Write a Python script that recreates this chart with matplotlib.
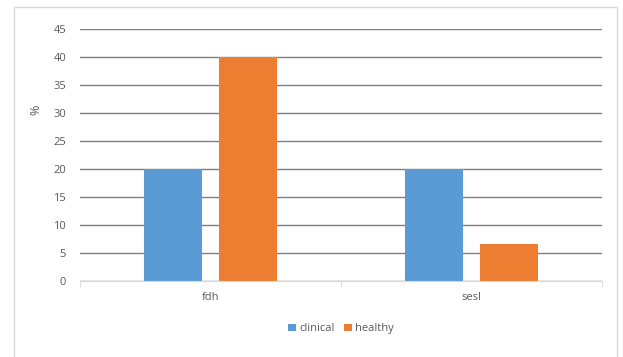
import matplotlib.pyplot as plt
from matplotlib.patches import Rectangle
import numpy as np

categories = ["fdh", "sesl"]
clinical = [20, 20]
healthy = [40, 6.67]

W, H = 623, 357
fig = plt.figure(figsize=(W / 100, H / 100), dpi=100)
plt.rcParams['font.family'] = ['Open Sans', 'DejaVu Sans']

# outer chart border
fig.add_artist(Rectangle((14 / W, -0.01), (617 - 14) / W, 1 - 7 / H + 0.01,
                         transform=fig.transFigure, fill=False,
                         edgecolor="#d9d9d9", linewidth=1))

ax = fig.add_axes([80 / W, 1 - 281 / H, (602 - 80) / W, (281 - 29) / H])

x = np.arange(len(categories))
bw = 0.222
off = 0.142
ax.bar(x - off, clinical, bw, color="#5B9BD5", label="clinical", zorder=3)
ax.bar(x + off, healthy, bw, color="#ED7D31", label="healthy", zorder=3)

ax.set_xlim(-0.5, 1.5)
ax.set_ylim(0, 45)
ax.set_yticks(range(0, 46, 5))
ax.grid(axis="y", color="#7f7f7f", linewidth=1, zorder=0)
for s in ["top", "right", "left"]:
    ax.spines[s].set_visible(False)
ax.spines["bottom"].set_color("#d9d9d9")
ax.spines["bottom"].set_zorder(4)

ax.set_xticks(x)
ax.set_xticklabels(categories)
ax.set_xticks([-0.5, 0.5, 1.5], minor=True)
ax.tick_params(axis="x", which="major", length=0, pad=8, labelsize=8, labelcolor="#595959")
ax.tick_params(axis="x", which="minor", length=4, color="#d9d9d9")
ax.tick_params(axis="y", length=0, pad=10, labelsize=8, labelcolor="#595959")
ax.set_ylabel("%", fontsize=9, color="#595959", labelpad=8)
ax.yaxis.set_label_coords(-0.072, 0.68)

ax.legend(loc="center", bbox_to_anchor=(0.5, -0.19), ncol=2, frameon=False,
          fontsize=8, labelcolor="#595959", handlelength=0.7, handleheight=0.7,
          handletextpad=0.3, columnspacing=0.8)

plt.savefig("out.png", dpi=100)
